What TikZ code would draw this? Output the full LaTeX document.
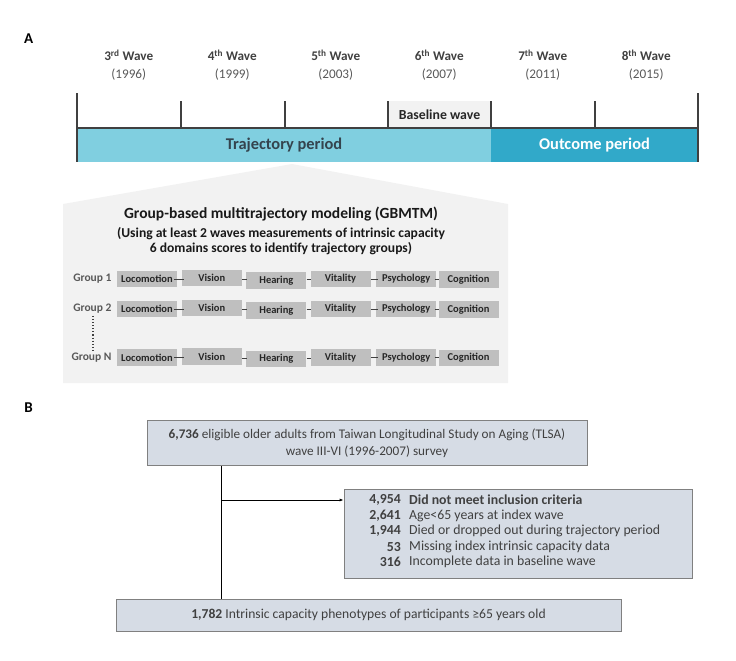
\documentclass[tikz,border=0pt]{standalone}
\usepackage{fontspec}
\setmainfont{Carlito}
\usetikzlibrary{arrows.meta,positioning,calc}
\definecolor{txt}{HTML}{404040}
\definecolor{yr}{HTML}{595959}
\definecolor{trajc}{HTML}{80CFE0}
\definecolor{trajt}{HTML}{34444E}
\definecolor{outc}{HTML}{31A9C9}
\definecolor{houseg}{HTML}{F2F2F2}
\definecolor{boxg}{HTML}{BFBFBF}
\definecolor{flowf}{HTML}{D6DCE5}
\definecolor{flowd}{HTML}{808080}
\definecolor{axisc}{HTML}{404040}
\newcommand{\fs}[1]{\fontsize{#1}{#1}\selectfont}
\begin{document}
\begin{tikzpicture}[x=1pt,y=-1pt,
  panellbl/.style={font=\fs{15}\bfseries, text=black, inner sep=0pt},
  wavelbl/.style={align=center, font=\fs{13.2}, text=txt, inner sep=0pt},
  dombox/.style={fill=boxg, minimum width=60, minimum height=16.5, inner sep=0pt, font=\fs{10.5}\bfseries, text=black!85},
  grplbl/.style={anchor=east, font=\fs{11.5}\bfseries, text=yr, inner sep=0pt},
  dashln/.style={draw=txt, line width=0.8pt},
  flowbox/.style={fill=flowf, draw=flowd, line width=0.8pt, inner sep=0pt, font=\fs{13.6}, text=txt},
  numlbl/.style={anchor=east, inner sep=0pt, font=\fs{13.8}\bfseries, text=txt},
  exlbl/.style={anchor=west, inner sep=0pt, font=\fs{13.8}, text=txt},
  ]
\useasboundingbox (0,0) rectangle (736,661);
% ---------- Panel A ----------
\node[panellbl] (A) at (28.7,38.3) {A};
\foreach \i/\w/\y in {1/3\textsuperscript{rd}/1996, 2/4\textsuperscript{th}/1999, 3/5\textsuperscript{th}/2003, 4/6\textsuperscript{th}/2007, 5/7\textsuperscript{th}/2011, 6/8\textsuperscript{th}/2015}{
  \node[wavelbl] (w\i) at ({77+103.5*(\i-0.5)},65) {{\bfseries \w\ Wave}\\[4pt]{\color{yr}(\y)}};
}
% baseline wave box
\node[fill=houseg, minimum width=103, minimum height=27, inner sep=0pt, font=\fs{13.8}\bfseries, text=black!85] (base) at (439.5,114.5) {Baseline wave};
% bars
\node[fill=trajc, minimum width=414, minimum height=34, inner sep=0pt, font=\fs{16.4}\bfseries, text=trajt] (traj) at (284,145) {Trajectory period};
\node[fill=outc, minimum width=207, minimum height=34, inner sep=0pt, font=\fs{16.4}\bfseries, text=white] (outc) at (594.5,145) {Outcome period};
% axis
\draw[axisc, line width=2.2pt] (77,128) -- (698,128);
\draw[axisc, line width=2.2pt] (77,93) -- (77,162);
\draw[axisc, line width=2.2pt] (698,93) -- (698,162);
\foreach \x in {181,285,388,491,595}{
  \draw[axisc, line width=2.2pt] (\x,101) -- (\x,128);
}
% house shape
\fill[houseg] (292,164) -- (508,204) -- (508,383) -- (63,383) -- (63,204) -- cycle;
\node[font=\fs{15.5}\bfseries, text=black!90, inner sep=0pt] (ttl) at (281,214.5) {Group-based multitrajectory modeling (GBMTM)};
\node[font=\fs{13.6}\bfseries, text=black!90, align=center, inner sep=0pt] (sub) at (281,241.5) {(Using at least 2 waves measurements of intrinsic capacity\\[1.5pt]6 domains scores to identify trajectory groups)};
% groups
\foreach \r/\yy/\lab in {1/279/Group 1, 2/309/Group 2, 3/357.5/Group N}{
  \node[grplbl] (g\r) at (111.7,\yy) {\lab};
  \node[dombox] (d\r a) at (147,\yy) {Locomotion};
  \node[dombox] (d\r b) at (211.8,\yy-1) {Vision};
  \node[dombox] (d\r c) at (276.4,\yy+1.5) {Hearing};
  \node[dombox] (d\r d) at (340.5,\yy) {Vitality};
  \node[dombox] (d\r e) at (406.3,\yy) {Psychology};
  \node[dombox] (d\r f) at (468.5,\yy+0.5) {Cognition};
  \draw[dashln] ([xshift=-3]d\r a.east |- 0,\yy) -- ([xshift=2]d\r b.west |- 0,\yy);
  \draw[dashln] ([xshift=0]d\r b.east |- 0,\yy+0.5) -- ([xshift=1]d\r c.west |- 0,\yy+0.5);
  \draw[dashln] ([xshift=0]d\r c.east |- 0,\yy+0.5) -- ([xshift=1]d\r d.west |- 0,\yy+0.5);
  \draw[dashln] ([xshift=0]d\r d.east |- 0,\yy) -- ([xshift=2]d\r e.west |- 0,\yy);
  \draw[dashln] ([xshift=-2]d\r e.east |- 0,\yy) -- ([xshift=1]d\r f.west |- 0,\yy);
}
\draw[txt, line width=1.1pt, dotted] ([yshift=-2]g2.south -| 93,0) -- ([yshift=2]g3.north -| 93,0);
% ---------- Panel B ----------
\node[panellbl] (B) at (28.7,408) {B};
\node[flowbox, minimum width=440, minimum height=45, align=center, font=\fs{13.2}] (top) at (367,443.2)
  {{\bfseries 6,736} eligible older adults from Taiwan Longitudinal Study on Aging (TLSA)\\[3pt] wave III-VI (1996-2007) survey};
\node[flowbox, minimum width=348, minimum height=89] (excl) at (518,533.5) {};
\foreach \k/\n/\t/\yy in {1/4{,}954/{\bfseries Did not meet inclusion criteria}/500,
                         2/2{,}641/Age<65 years at index wave/515.7,
                         3/1{,}944/Died or dropped out during trajectory period/531.3,
                         4/53/Missing index intrinsic capacity data/546.7,
                         5/316/Incomplete data in baseline wave/562}{
  \node[numlbl] (n\k) at (401,\yy) {\n};
  \node[exlbl] (t\k) at (409,\yy) {\t};
}
\node[flowbox, minimum width=505, minimum height=32] (bot) at (368.5,615)
  {{\bfseries 1,782} Intrinsic capacity phenotypes of participants ≥65 years old};
\coordinate (split) at (221.7,500);
\draw[black, line width=0.8pt] (top.south -| split) -- (bot.north -| split);
\draw[black, line width=0.8pt, -{Latex[length=4pt,width=3pt]}] (split) -- (excl.west |- split);
\end{tikzpicture}
\end{document}
